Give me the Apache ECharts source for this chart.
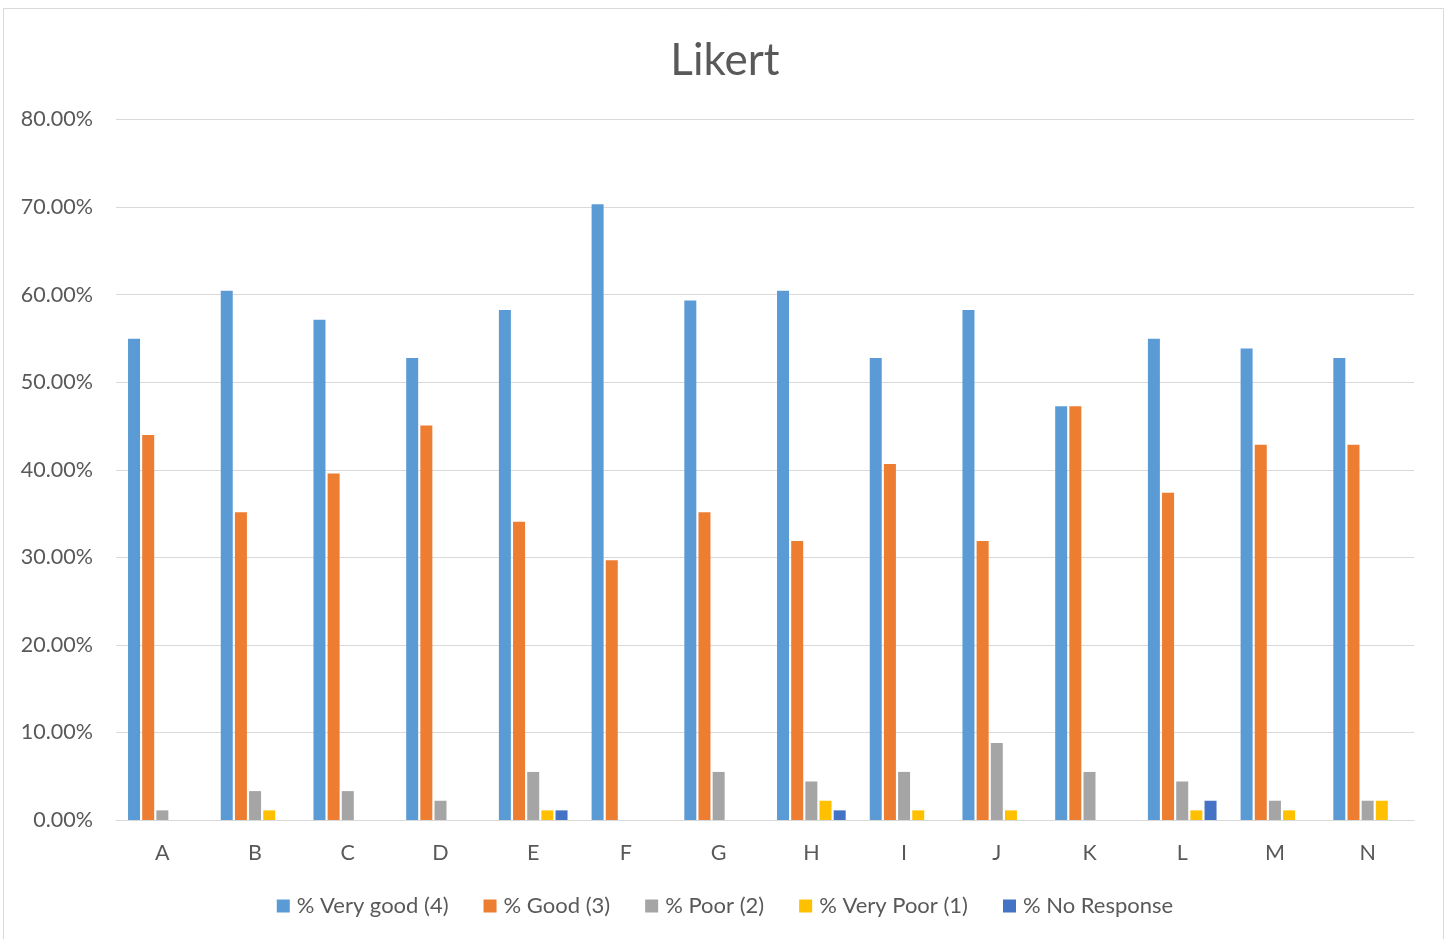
<!DOCTYPE html>
<html>
<head>
<meta charset="utf-8">
<script src="https://cdn.jsdelivr.net/npm/echarts@6/dist/echarts.min.js"></script>
<style>
  html, body { margin: 0; padding: 0; background: #fff; }
  #main { width: 1450px; height: 939px; }
</style>
</head>
<body>
<div id="main"></div>
<script>
var categories = ['A','B','C','D','E','F','G','H','I','J','K','L','M','N'];
var veryGood   = [54.95,60.44,57.14,52.75,58.24,70.33,59.34,60.44,52.75,58.24,47.25,54.95,53.85,52.75];
var good       = [43.96,35.16,39.56,45.05,34.07,29.67,35.16,31.87,40.66,31.87,47.25,37.36,42.86,42.86];
var poor       = [1.10,3.30,3.30,2.20,5.49,0,5.49,4.40,5.49,8.79,5.49,4.40,2.20,2.20];
var veryPoor   = [0,1.10,0,0,1.10,0,0,2.20,1.10,1.10,0,1.10,1.10,2.20];
var noResponse = [0,0,0,0,1.10,0,0,1.10,0,0,0,2.20,0,0];
var seriesNames = ['% Very good (4)','% Good (3)','% Poor (2)','% Very Poor (1)','% No Response'];
var colors = ['#5B9BD5','#ED7D31','#A5A5A5','#FFC000','#4472C4'];

var myChart = echarts.init(document.getElementById('main'));
var font = 'Lato, "Open Sans", sans-serif';

var dataSets = [veryGood, good, poor, veryPoor, noResponse];
var series = [];
for (var i = 0; i < dataSets.length; i++) {
    series.push({
        name: seriesNames[i],
        type: 'bar',
        data: dataSets[i],
        barWidth: 12,
        barGap: '18%',
        itemStyle: { color: colors[i] }
    });
}

myChart.setOption({
    animation: false,
    color: colors,
    textStyle: { fontFamily: font },
    title: {
        text: 'Likert',
        left: 'center',
        top: 34,
        textStyle: { fontSize: 44, fontWeight: 'normal', color: '#595959', fontFamily: font }
    },
    graphic: [{
        type: 'rect',
        shape: { x: 3.5, y: 8.5, width: 1440, height: 940 },
        style: { fill: 'none', stroke: '#d9d9d9', lineWidth: 1 },
        silent: true
    }],
    legend: {
        data: seriesNames,
        left: 'center',
        top: 890,
        itemWidth: 13,
        itemHeight: 13,
        itemGap: 35,
        icon: 'rect',
        textStyle: { fontSize: 22, color: '#595959', fontFamily: font, padding: [0, 0, 0, 2] }
    },
    grid: { left: 116, right: 36, top: 119.5, bottom: 119 },
    xAxis: {
        type: 'category',
        data: categories,
        axisLine: { lineStyle: { color: '#d9d9d9', width: 1 } },
        axisTick: { show: false },
        axisLabel: { fontSize: 21.5, color: '#595959', margin: 22, fontFamily: font }
    },
    yAxis: {
        type: 'value',
        min: 0,
        max: 80,
        interval: 10,
        axisLine: { show: false },
        axisTick: { show: false },
        splitLine: { lineStyle: { color: '#d9d9d9', width: 1 } },
        axisLabel: {
            fontSize: 21.5, color: '#595959', margin: 23, fontFamily: font,
            formatter: function (v) { return v.toFixed(2) + '%'; }
        }
    },
    series: series
});
</script>
</body>
</html>
